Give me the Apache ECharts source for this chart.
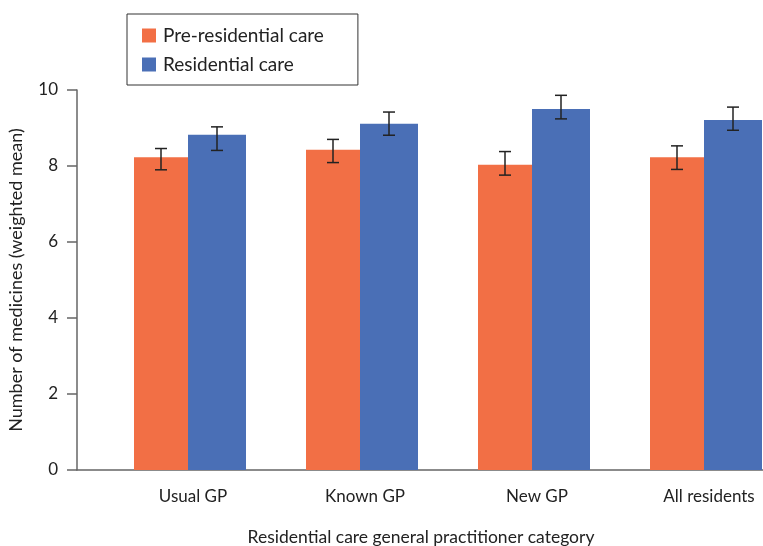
<!DOCTYPE html>
<html>
<head>
<meta charset="utf-8">
<script src="https://cdn.jsdelivr.net/npm/echarts@6/dist/echarts.min.js"></script>
<style>
  html, body { margin: 0; padding: 0; background: #fff; }
  #chart { width: 763px; height: 546px; }
</style>
</head>
<body>
<div id="chart"></div>
<script>
// Weighted mean number of medicines per resident, with 95% CI limits
const categories = ['Usual GP', 'Known GP', 'New GP', 'All residents'];
const preResidential = [8.23, 8.43, 8.03, 8.23];
const preResidentialLow = [7.90, 8.09, 7.76, 7.91];
const preResidentialHigh = [8.46, 8.70, 8.38, 8.53];
const residential = [8.82, 9.11, 9.50, 9.21];
const residentialLow = [8.41, 8.81, 9.24, 8.94];
const residentialHigh = [9.03, 9.42, 9.86, 9.55];
const yTicks = [0, 2, 4, 6, 8, 10];

const ORANGE = '#F26F45';
const BLUE = '#4A6FB6';
const FONT = 'Lato';

// bar widths (px): an empty leading slot, then the two visible series
const SPACER_W = 54, PRE_W = 54, RES_W = 58;
const GROUP_W = SPACER_W + PRE_W + RES_W;

function errorBars(low, high, barOffset) {
  return function (params, api) {
    const i = api.value(0);
    const top = api.coord([i, api.value(2)]);
    const bot = api.coord([i, api.value(1)]);
    const x = top[0] - GROUP_W / 2 + barOffset;
    const cap = 6;
    const style = { stroke: '#222', lineWidth: 1.5 };
    return {
      type: 'group',
      children: [
        { type: 'line', shape: { x1: x, y1: top[1], x2: x, y2: bot[1] }, style },
        { type: 'line', shape: { x1: x - cap, y1: top[1], x2: x + cap, y2: top[1] }, style },
        { type: 'line', shape: { x1: x - cap, y1: bot[1], x2: x + cap, y2: bot[1] }, style }
      ]
    };
  };
}

const chart = echarts.init(document.getElementById('chart'));
chart.setOption({
  animation: false,
  textStyle: { fontFamily: FONT },
  legend: {
    data: ['Pre-residential care', 'Residential care'],
    orient: 'vertical',
    left: 127,
    top: 14,
    icon: 'rect',
    itemWidth: 14,
    itemHeight: 14,
    itemGap: 10,
    padding: [12, 34, 11, 15],
    borderColor: '#333',
    borderWidth: 1,
    textStyle: { fontFamily: FONT, fontSize: 19, color: '#222', padding: [0, 0, 0, 2] }
  },
  grid: { left: 77, right: -2, top: 90, bottom: 76, containLabel: false, outerBoundsMode: 'none' },
  xAxis: {
    type: 'category',
    data: categories,
    axisLine: { show: true, lineStyle: { color: '#666', width: 1.5 } },
    axisTick: { show: false },
    axisLabel: { fontFamily: FONT, fontSize: 17, color: '#222', margin: 18, padding: [0, 0, 0, 60] },
    name: 'Residential care general practitioner category',
    nameLocation: 'middle',
    nameGap: 58,
    nameTextStyle: { fontFamily: FONT, fontSize: 17.5, color: '#222' }
  },
  yAxis: {
    type: 'value',
    min: yTicks[0],
    max: yTicks[yTicks.length - 1],
    interval: 2,
    splitLine: { show: false },
    axisLine: { show: true, lineStyle: { color: '#666', width: 1.5 } },
    axisTick: { show: true, length: 10, inside: false, lineStyle: { color: '#666', width: 1.5 } },
    axisLabel: { fontFamily: FONT, fontSize: 17, color: '#222', margin: 19 },
    name: 'Number of medicines (weighted mean)',
    nameLocation: 'middle',
    nameGap: 52,
    nameTextStyle: { fontFamily: FONT, fontSize: 18, color: '#222' }
  },
  series: [
    {
      name: 'spacer',
      type: 'bar',
      data: categories.map(() => null),
      barWidth: SPACER_W,
      barGap: 0,
      silent: true
    },
    {
      name: 'Pre-residential care',
      type: 'bar',
      data: preResidential,
      barWidth: PRE_W,
      barGap: 0,
      itemStyle: { color: ORANGE }
    },
    {
      name: 'Residential care',
      type: 'bar',
      data: residential,
      barWidth: RES_W,
      barGap: 0,
      itemStyle: { color: BLUE }
    },
    {
      type: 'custom',
      renderItem: errorBars(preResidentialLow, preResidentialHigh, SPACER_W + PRE_W / 2),
      data: categories.map((c, i) => [i, preResidentialLow[i], preResidentialHigh[i]]),
      encode: { x: 0, y: [1, 2] },
      z: 10
    },
    {
      type: 'custom',
      renderItem: errorBars(residentialLow, residentialHigh, SPACER_W + PRE_W + RES_W / 2),
      data: categories.map((c, i) => [i, residentialLow[i], residentialHigh[i]]),
      encode: { x: 0, y: [1, 2] },
      z: 10
    }
  ]
});
</script>
</body>
</html>
